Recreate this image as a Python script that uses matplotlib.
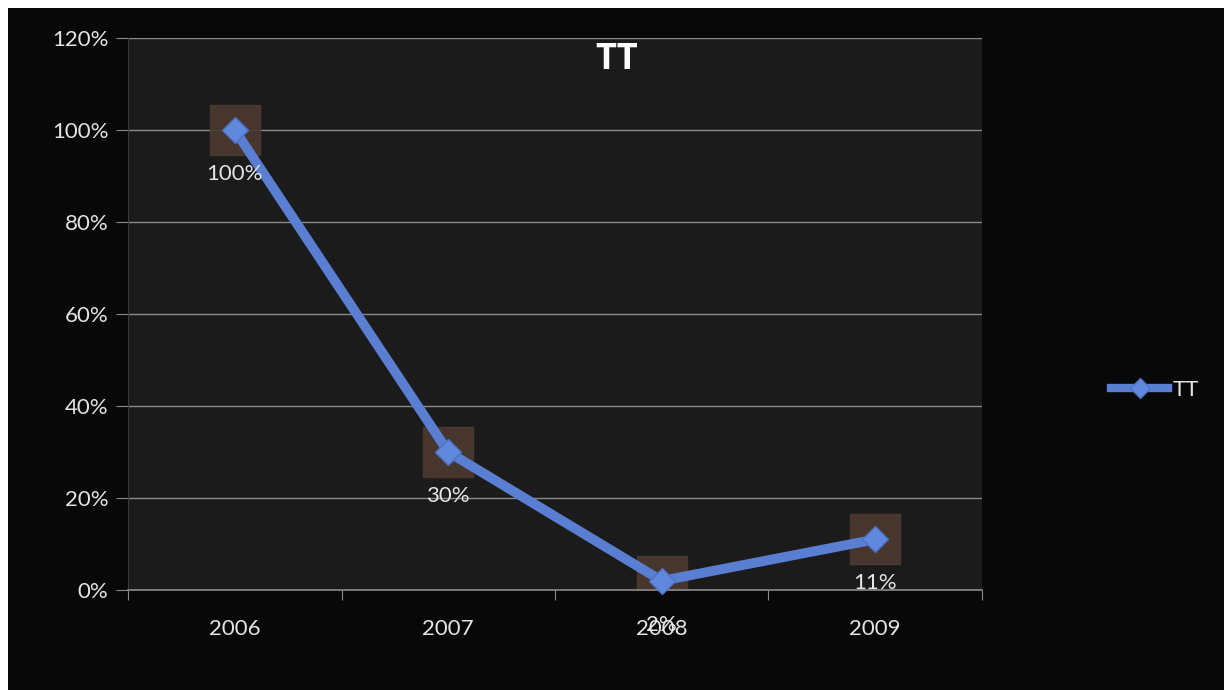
import numpy as np
import matplotlib.pyplot as plt
from matplotlib.patches import Rectangle
from matplotlib.ticker import FuncFormatter

years = ['2006', '2007', '2008', '2009']
tt_values = [100, 30, 2, 11]
tt_labels = ['100%', '30%', '2%', '11%']
y_ticks = [0, 20, 40, 60, 80, 100, 120]

W, H = 1224, 690
fig = plt.figure(figsize=(W / 100, H / 100), dpi=100, facecolor='white')
# black slide background, thin white border at top/left
fig.patches.append(Rectangle((8 / W, 0), 1, 1 - 8 / H, transform=fig.transFigure,
                             facecolor='#080808', edgecolor='none', zorder=-5))

ax = fig.add_axes([128 / W, 1 - 590 / H, (982 - 128) / W, (590 - 38) / H])
ax.set_zorder(2)
ax.set_facecolor('#1b1b1b')
x = np.arange(len(years))

grid_c = '#8a8a8a'
txt_c = '#e4e4e4'
ax.set_xlim(-0.5, 3.5)
ax.set_ylim(0, 120)
ax.set_yticks(y_ticks)
ax.yaxis.set_major_formatter(FuncFormatter(lambda v, p: f'{v:.0f}%'))
ax.grid(axis='y', color=grid_c, linewidth=1)
ax.set_axisbelow(True)
for s in ['top', 'right']:
    ax.spines[s].set_visible(False)
ax.spines['left'].set_color('#3a3a3a')
ax.spines['bottom'].set_color(grid_c)
ax.spines['bottom'].set_linewidth(1.2)
ax.tick_params(axis='y', colors=grid_c, length=9, labelcolor=txt_c, labelsize=16, pad=5)
ax.set_xticks(np.arange(-0.5, 4, 1))
ax.set_xticklabels([])
ax.set_xticks(x, minor=True)
ax.set_xticklabels(years, minor=True)
ax.tick_params(axis='x', which='major', colors=grid_c, length=7)
ax.tick_params(axis='x', which='minor', length=0, labelcolor=txt_c, labelsize=16, pad=21)
for lab in ax.get_yticklabels() + ax.get_xticklabels(minor=True):
    lab.set_fontfamily('Lato')

# brown squares behind the markers (clipped by the plot area)
ax.scatter(x, tt_values, marker='s', s=1250, color='#4b3a30', alpha=0.9, zorder=2)
ax.plot(x, tt_values, color='#5a7fd2', linewidth=7, marker='D', markersize=13,
        markerfacecolor='#6088dc', markeredgecolor='#4d70c4', label='TT', zorder=3, clip_on=False)

for xi, v, t in zip(x, tt_values, tt_labels):
    ax.annotate(t, (xi, v), xytext=(0, -44), textcoords='offset pixels',
                ha='center', va='center', color=txt_c, fontsize=16, family='Lato', zorder=4,
                annotation_clip=False)

fig.text(617 / W, 1 - 60 / H, 'TT', ha='center', va='center', color='white',
         fontsize=26, fontweight='bold', family='Open Sans')

leg = fig.legend(loc='center', bbox_to_anchor=(1155 / W, 1 - 390 / H), frameon=False,
                 handlelength=2.6, handletextpad=0.2, prop={'family': 'Lato', 'size': 16})
for t in leg.get_texts():
    t.set_color(txt_c)
for h in leg.legend_handles:
    h.set_markersize(10)
    h.set_linewidth(6)

fig.savefig('out.png', dpi=100, facecolor=fig.get_facecolor())
